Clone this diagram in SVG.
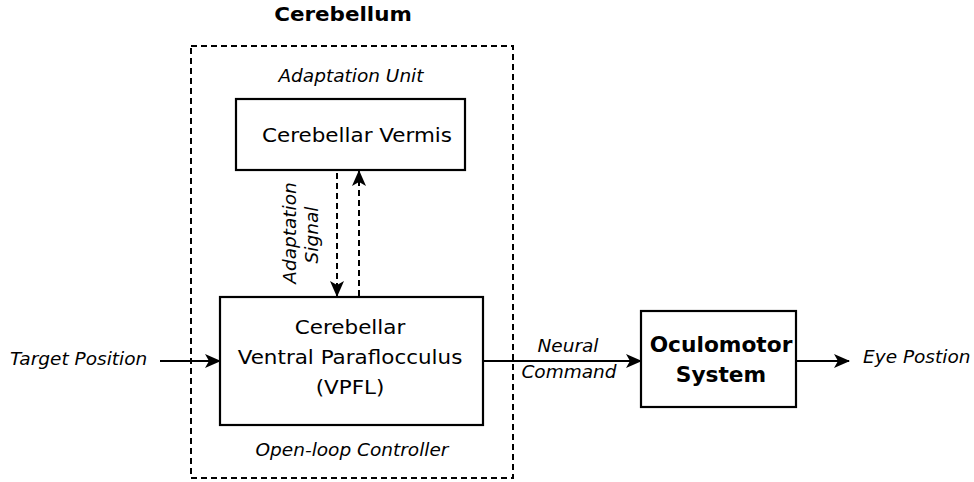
<svg xmlns="http://www.w3.org/2000/svg" width="974" height="482" viewBox="0 0 974 482">
<style>
text{font-family:"DejaVu Sans","Liberation Sans",sans-serif;fill:#000}
.it{font-style:italic;font-size:18.5px}
.lbl{font-size:19px}
.bl{font-size:20.5px;font-weight:bold}
.b{font-weight:bold}
.box{fill:#fff;stroke:#000;stroke-width:2.2}
.ln{stroke:#000;stroke-width:2;fill:none}
.dash{stroke-dasharray:6,4}
</style>
<defs>
<marker id="ah" markerWidth="16" markerHeight="14" refX="15" refY="7" orient="auto" markerUnits="userSpaceOnUse">
<path d="M0,0 L16,7 L0,14 L4,7 Z" fill="#000"/>
</marker>
</defs>
<g id="cerebellum">
<rect x="191" y="46" width="322" height="432" fill="none" stroke="#000" stroke-width="2" stroke-dasharray="6,4"/>
<text transform="translate(343,21) scale(1.1,1)" font-size="19.5" class="b" text-anchor="middle">Cerebellum</text>
<text x="351" y="82" class="it" text-anchor="middle">Adaptation Unit</text>
<text x="352" y="456" class="it" text-anchor="middle">Open-loop Controller</text>
</g>
<g id="vermis">
<rect class="box" x="236" y="99" width="229" height="71"/>
<text transform="translate(357,142) scale(1.13,1)" class="lbl" text-anchor="middle">Cerebellar Vermis</text>
</g>
<g id="vpfl">
<rect class="box" x="220" y="297" width="263" height="128"/>
<text transform="translate(350,334) scale(1.13,1)" class="lbl" text-anchor="middle">Cerebellar</text>
<text transform="translate(350,364) scale(1.13,1)" class="lbl" text-anchor="middle">Ventral Paraflocculus</text>
<text transform="translate(350,394) scale(1.13,1)" class="lbl" text-anchor="middle">(VPFL)</text>
</g>
<g id="oculomotor">
<rect class="box" x="641" y="311" width="155" height="96"/>
<text transform="translate(721,352) scale(1.06,1)" class="bl" text-anchor="middle">Oculomotor</text>
<text transform="translate(721,382) scale(1.06,1)" class="bl" text-anchor="middle">System</text>
</g>
<g id="connectors">
<line class="ln dash" x1="337" y1="173" x2="337" y2="296" marker-end="url(#ah)"/>
<line class="ln dash" x1="359" y1="296" x2="359" y2="171" marker-end="url(#ah)"/>
<line class="ln" x1="160" y1="361" x2="220" y2="361" marker-end="url(#ah)"/>
<line class="ln" x1="483" y1="361" x2="641" y2="361" marker-end="url(#ah)"/>
<line class="ln" x1="796" y1="361" x2="849" y2="361" marker-end="url(#ah)"/>
<text class="it" transform="translate(296,233) rotate(-90)" text-anchor="middle">Adaptation</text>
<text class="it" transform="translate(318,235) rotate(-90)" text-anchor="middle">Signal</text>
<text x="10" y="365" class="it">Target Position</text>
<text x="568" y="352" class="it" text-anchor="middle">Neural</text>
<text x="569" y="378" class="it" text-anchor="middle">Command</text>
<text x="863" y="363" class="it">Eye Postion</text>
</g>
</svg>
